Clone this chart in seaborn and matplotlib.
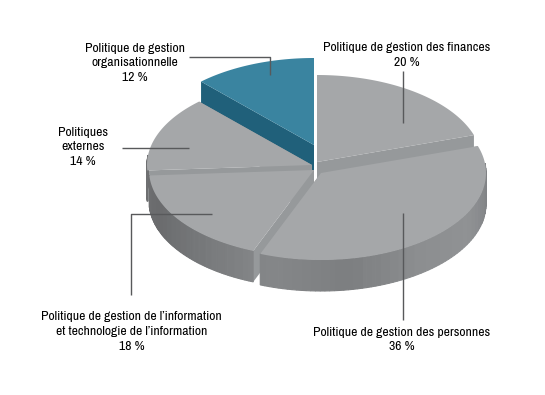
import numpy as np
import matplotlib.pyplot as plt
import seaborn as sns

# parts du budget, sens horaire depuis le haut
labels = ["Politique de gestion des finances\n20 %",
          "Politique de gestion des personnes\n36 %",
          "Politique de gestion de l\u2019information\net technologie de l\u2019information\n18 %",
          "Politiques\nexternes\n14 %",
          "Politique de gestion\norganisationnelle\n12 %"]
shares = [20, 36, 18, 14, 12]

# centre de chaque part une fois detachee (pixels)
apex = [(317, 162), (321, 173), (314, 170), (312, 165), (314, 145)]
tops = ["#A5A7A9", "#A5A7A9", "#A5A7A9", "#A5A7A9", "#3A84A0"]
faces = ["#96999B", "#96999B", "#96999B", "#96999B", "#20607A"]
rx, ry, depth = 165, 87, 31

sns.set_theme(style="white")
plt.rcParams['font.family'] = ['Archivo Narrow', 'Roboto Condensed', 'Liberation Sans Narrow', 'Liberation Sans', 'DejaVu Sans']

fig, ax = plt.subplots(figsize=(5.45, 3.95), dpi=100, facecolor='white')
fig.subplots_adjust(0, 0, 1, 1)
ax.set_xlim(0, 545)
ax.set_ylim(395, 0)
ax.axis('off')

wall_pal = sns.blend_palette(["#808285", "#909294", "#8C8E90", "#7C7E80", "#858789", "#76787A", "#6A6B6D", "#6F7072"], 60)


def pt(c, a, dy=0):
    return c[0] + rx * np.sin(a), c[1] - ry * np.cos(a) + dy


edges = np.radians(np.concatenate([[0], np.cumsum(shares)]) * 3.6)

# ordre de peinture : du fond vers l'avant
for z, i in enumerate([4, 0, 3, 2, 1]):
    c, a0, a1 = apex[i], edges[i], edges[i + 1]
    ang = np.linspace(a0, a1, 80)
    x, y = pt(c, ang)
    # faces radiales
    for a in (a0, a1):
        ex, ey = pt(c, a)
        ax.fill([c[0], ex, ex, c[0]], [c[1], ey, ey + depth, c[1] + depth], color=faces[i], lw=0, zorder=z + 1)
    # paroi exterieure
    for a, b in zip(ang[:-1], ang[1:]):
        if np.cos((a + b) / 2) < 0.12:
            k = int(np.clip((np.degrees((a + b) / 2) - 90) / 185 * 59, 0, 59))
            col = faces[i] if i == 4 else wall_pal[k]
            xa, ya = pt(c, a)
            xb, yb = pt(c, b)
            ax.fill([xa, xb, xb, xa], [ya, yb, yb + depth, ya + depth], color=col, lw=0.8, ec=col, zorder=z + 1)
    ax.fill(np.r_[c[0], x], np.r_[c[1], y], color=tops[i], lw=0, zorder=z + 1)

# traits de rappel
line_kw = dict(color="#58595B", lw=1, zorder=10, solid_capstyle='butt')
ax.plot([189, 270, 270], [57, 57, 75], **line_kw)
ax.plot([403, 403], [71, 123], **line_kw)
ax.plot([122, 189], [148, 148], **line_kw)
ax.plot([131, 131, 212], [295, 214, 214], **line_kw)
ax.plot([403, 403], [213, 320], **line_kw)

text_pos = [(407, 55), (402, 339.5), (131.5, 331.5), (83, 147), (135, 63)]
for s, (tx, ty) in zip(labels, text_pos):
    ax.text(tx, ty, s, ha='center', va='center', fontsize=9.85, color='black', linespacing=1.42, zorder=11)

fig.savefig("out.png", dpi=100)
